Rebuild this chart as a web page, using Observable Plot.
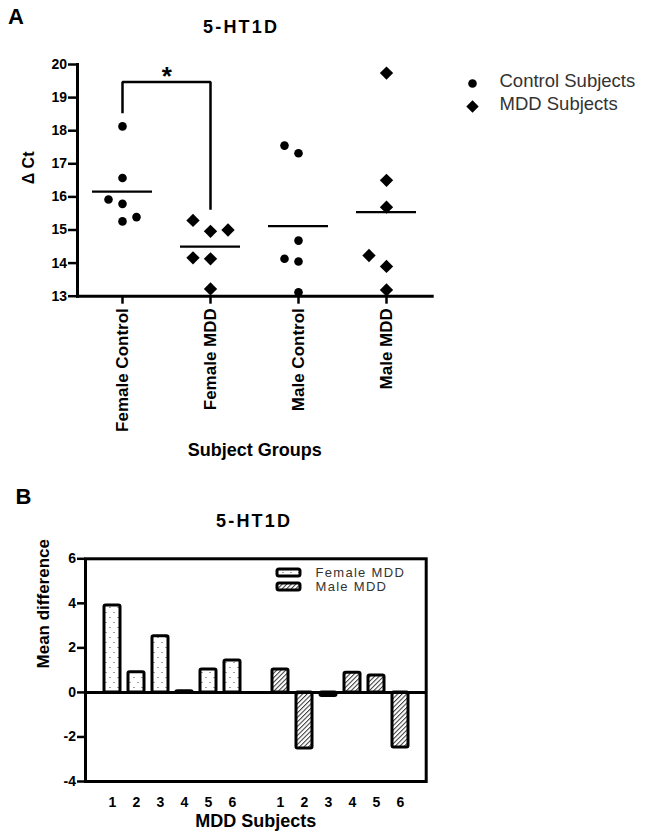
<!DOCTYPE html>
<html><head><meta charset="utf-8">
<script src="https://cdn.jsdelivr.net/npm/d3@7"></script>
<script src="https://cdn.jsdelivr.net/npm/@observablehq/plot@0.6"></script>
<style>
html,body{margin:0;padding:0;background:#fff;}
#page{position:relative;width:645px;height:834px;overflow:hidden;font-family:"Liberation Sans",Arial,sans-serif;color:#000;}
.abs{position:absolute;line-height:1;white-space:nowrap;}
.panel{font-size:22px;font-weight:bold;}
.title{font-size:18px;font-weight:bold;letter-spacing:2.2px;}
</style></head><body>
<svg width="0" height="0" style="position:absolute">
<defs>
<pattern id="dotsF" patternUnits="userSpaceOnUse" width="8" height="10">
<rect width="8" height="10" fill="#fff"/>
<rect x="1.5" y="2" width="1" height="1" fill="#444"/>
<rect x="5.5" y="7" width="1" height="1" fill="#444"/>
</pattern>
<pattern id="hatchM" patternUnits="userSpaceOnUse" width="3.2" height="3.2" patternTransform="rotate(45)">
<rect width="3.2" height="3.2" fill="#fff"/>
<line x1="0.5" y1="0" x2="0.5" y2="3.2" stroke="#333" stroke-width="1"/>
</pattern>
</defs></svg>
<div id="page">
 <div id="plotA" class="abs" style="left:0;top:0"></div>
 <div id="legendA" class="abs" style="left:460px;top:65px"></div>
 <div id="plotB" class="abs" style="left:0;top:480px"></div>
 <div id="legendB" class="abs" style="left:265px;top:560px"></div>
 <div class="abs panel" style="left:8px;top:6.4px">A</div>
 <div class="abs title" style="left:203px;top:17.5px">5-HT1D</div>
 <div class="abs panel" style="left:15.5px;top:486.4px">B</div>
 <div class="abs title" style="left:216px;top:511.5px">5-HT1D</div>
</div>
<script>
// ---------- Panel A data ----------
const groups = ["Female Control", "Female MDD", "Male Control", "Male MDD"];
const femaleControl = [18.13, 16.57, 15.92, 15.79, 15.26, 15.39];
const femaleControlSide = ["center", "center", "left", "center", "center", "right"];
const femaleMDD = [15.29, 14.96, 15.00, 14.16, 14.13, 13.22];
const femaleMDDSide = ["left", "center", "right", "left", "center", "center"];
const maleControl = [17.55, 17.32, 14.68, 14.13, 14.05, 13.12];
const maleControlSide = ["left", "center", "center", "left", "center", "center"];
const maleMDD = [19.74, 16.50, 15.69, 14.23, 13.90, 13.19];
const maleMDDSide = ["center", "center", "center", "left", "center", "center"];
const groupMeans = [16.16, 14.50, 15.12, 15.54];
const yTicksA = [13, 14, 15, 16, 17, 18, 19, 20];
const bracketGroups = ["Female Control", "Female Control", "Female MDD", "Female MDD"];
const bracketValues = [18.53, 19.47, 19.47, 15.61];
const legendLabelsA = ["Control Subjects", "MDD Subjects"];

// ---------- Panel B data ----------
const subjects = ["1", "2", "3", "4", "5", "6"];
const sexes = ["Female MDD", "Male MDD"];
const femaleDiff = [3.90, 0.91, 2.52, 0.05, 1.03, 1.43];
const maleDiff = [1.03, -2.52, -0.16, 0.88, 0.76, -2.47];
const yTicksB = [-4, -2, 0, 2, 4, 6];
const patterns = ["url(#dotsF)", "url(#hatchM)"];

const font = '"Liberation Sans", Arial, sans-serif';
const baseStyle = {fontFamily: font, color: "black", background: "none", overflow: "visible"};

// ---------- Panel A ----------
const series = [
  {group: groups[0], kind: "control", values: femaleControl, sides: femaleControlSide},
  {group: groups[1], kind: "mdd", values: femaleMDD, sides: femaleMDDSide},
  {group: groups[2], kind: "control", values: maleControl, sides: maleControlSide},
  {group: groups[3], kind: "mdd", values: maleMDD, sides: maleMDDSide}
];
const points = series.flatMap(s => s.values.map((v, i) => ({group: s.group, kind: s.kind, value: v, side: s.sides[i]})));
const meanData = groups.map((g, i) => ({group: g, mean: groupMeans[i]}));
const bracket = bracketGroups.map((g, i) => ({group: g, value: bracketValues[i]}));
const sideSign = {left: -1, center: 0, right: 1};
const spread = {control: 14, mdd: 17.5};
const symbolOf = {control: "circle", mdd: "diamond2"};
const sizeOf = {control: 4.3, mdd: 6};
const dotMarks = [];
for (const kind of ["control", "mdd"]) {
  for (const side of ["left", "center", "right"]) {
    dotMarks.push(Plot.dot(points, {
      filter: d => d.kind === kind && d.side === side,
      x: "group", y: "value", dx: sideSign[side] * spread[kind],
      symbol: symbolOf[kind], r: sizeOf[kind], fill: "black", stroke: "none"
    }));
  }
}

const plotA = Plot.plot({
  width: 645, height: 480,
  marginTop: 64, marginBottom: 184.3, marginLeft: 77, marginRight: 213.3,
  style: baseStyle,
  x: {type: "band", domain: groups, paddingInner: 0.32, paddingOuter: 0.16},
  y: {domain: [13, 20]},
  marks: [
    Plot.axisY({ticks: yTicksA, tickFormat: d => String(d), tickSize: 9, tickPadding: 1.5, fontSize: 14, fontWeight: "bold", strokeWidth: 2.5, label: null}),
    Plot.axisX({tickSize: 8, tickPadding: 4, tickRotate: -90, fontSize: 17, fontWeight: "bold", strokeWidth: 2.5, label: null}),
    Plot.frame({anchor: "left", strokeWidth: 3}),
    Plot.frame({anchor: "bottom", strokeWidth: 3}),
    Plot.text(["\u0394 Ct"], {frameAnchor: "left", rotate: -90, dx: -55.3, dy: 4, lineAnchor: "top", text: d => d, fontSize: 16, fontWeight: "bold"}),
    Plot.text(["Subject Groups"], {frameAnchor: "bottom", dy: 159.3, lineAnchor: "bottom", text: d => d, fontSize: 18, fontWeight: "bold"}),
    Plot.tickY(meanData, {x: "group", y: "mean", strokeWidth: 2.2}),
    ...dotMarks,
    Plot.line(bracket, {x: "group", y: "value", strokeWidth: 2.5, strokeLinejoin: "miter", strokeLinecap: "butt"}),
    Plot.text(["*"], {x: () => bracketGroups[0], y: () => bracketValues[1], dx: 44.4, dy: 3, lineAnchor: "bottom", text: d => d, fontSize: 26, fontWeight: "bold"})
  ]
});
document.getElementById("plotA").append(plotA);

const legA = Plot.plot({
  width: 185, height: 55, margin: 0,
  style: baseStyle,
  x: {type: "point", domain: ["symbol", "label"], range: [11.7, 39], padding: 0, axis: null},
  y: {type: "point", domain: legendLabelsA, range: [17.7, 41], padding: 0, axis: null},
  symbol: {domain: legendLabelsA, range: ["circle", "diamond2"]},
  marks: [
    Plot.dot(legendLabelsA, {filter: (d, i) => i === 0, x: () => "symbol", y: d => d, symbol: d => d, r: 4.3, fill: "black", stroke: "none"}),
    Plot.dot(legendLabelsA, {filter: (d, i) => i === 1, x: () => "symbol", y: d => d, symbol: d => d, r: 5.6, fill: "black", stroke: "none"}),
    Plot.text(legendLabelsA, {x: () => "label", y: d => d, text: d => d, textAnchor: "start", fontSize: 18.5, fill: "#333", dy: -2})
  ]
});
document.getElementById("legendA").append(legA);

// ---------- Panel B ----------
const keyOf = (sex, s) => sex + " " + s;
const gapKey = "gap";
const xDomainB = [...subjects.map(s => keyOf(sexes[0], s)), gapKey, ...subjects.map(s => keyOf(sexes[1], s))];
const bars = [
  ...femaleDiff.map((v, i) => ({key: keyOf(sexes[0], subjects[i]), sex: sexes[0], subject: subjects[i], value: v})),
  ...maleDiff.map((v, i) => ({key: keyOf(sexes[1], subjects[i]), sex: sexes[1], subject: subjects[i], value: v}))
];
const labelOfKey = new Map(bars.map(d => [d.key, d.subject]));

const plotB = Plot.plot({
  width: 645, height: 354,
  marginTop: 78.3, marginBottom: 53, marginLeft: 85, marginRight: 219.3,
  style: baseStyle,
  x: {type: "band", domain: xDomainB, paddingInner: 0.35, paddingOuter: 0.571},
  y: {domain: [-4, 6]},
  color: {domain: sexes, range: patterns},
  marks: [
    Plot.barY(bars, {x: "key", y: "value", fill: "sex", stroke: "black", strokeWidth: 3, rx: 1.5}),
    Plot.ruleY([0], {strokeWidth: 3}),
    Plot.frame({strokeWidth: 3}),
    Plot.axisY({ticks: yTicksB, tickFormat: d => String(d), tickSize: 8, tickPadding: 1.5, fontSize: 14, fontWeight: "bold", strokeWidth: 2.5, label: null}),
    Plot.axisX({ticks: bars.map(d => d.key), tickFormat: k => labelOfKey.get(k), tickSize: 0, tickPadding: 16, fontSize: 14, fontWeight: "bold", label: null}),
    Plot.text(["Mean difference"], {frameAnchor: "left", rotate: -90, dx: -49, dy: -1.7, lineAnchor: "top", text: d => d, fontSize: 17, fontWeight: "bold"}),
    Plot.text(["MDD Subjects"], {frameAnchor: "bottom", dy: 45, lineAnchor: "bottom", text: d => d, fontSize: 18, fontWeight: "bold"})
  ]
});
document.getElementById("plotB").append(plotB);

const legB = Plot.plot({
  width: 160, height: 40, margin: 0,
  style: {...baseStyle, letterSpacing: "1.3px"},
  x: {type: "band", domain: ["swatch"], range: [11.5, 35.2], padding: 0, axis: null},
  y: {type: "band", domain: sexes, range: [8.7, 31.3], paddingInner: 0.493, paddingOuter: 0, axis: null},
  color: {domain: sexes, range: patterns},
  marks: [
    Plot.cell(sexes, {x: () => "swatch", y: d => d, fill: d => d, stroke: "black", strokeWidth: 3, rx: 2}),
    Plot.text(sexes, {y: d => d, frameAnchor: "left", dx: 50, text: d => d, textAnchor: "start", fontSize: 13, fill: "#333"})
  ]
});
document.getElementById("legendB").append(legB);
</script>
</body></html>
